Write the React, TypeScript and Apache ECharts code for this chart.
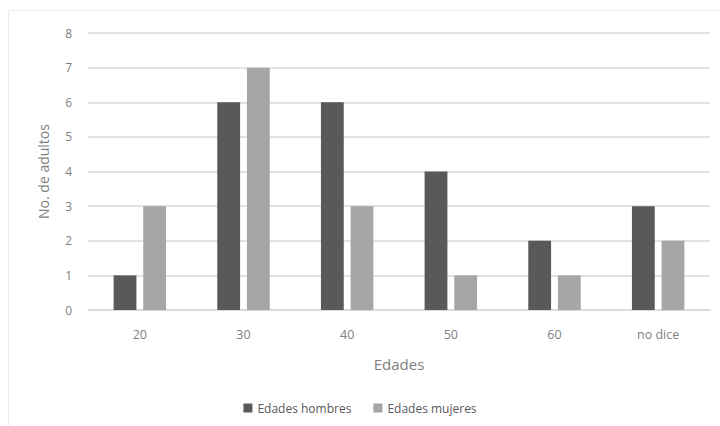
import React, { useEffect, useRef } from "react";
import * as echarts from "echarts";

const categories = ["20", "30", "40", "50", "60", "no dice"];
const hombres = [1, 6, 6, 4, 2, 3];
const mujeres = [3, 7, 3, 1, 1, 2];
const seriesNames = ["Edades hombres", "Edades mujeres"];

export default function App() {
  const ref = useRef<HTMLDivElement>(null);
  useEffect(() => {
    document.body.style.margin = "0";
    const chart = echarts.init(ref.current!, null, { renderer: "svg" });
    const font = "'Open Sans', 'Noto Sans', sans-serif";
    chart.setOption({
      animation: false,
      backgroundColor: "#ffffff",
      textStyle: { fontFamily: font },
      graphic: [
        {
          type: "rect",
          shape: { x: 8.5, y: 10.5, width: 720, height: 420 },
          style: { fill: "none", stroke: "#eeeeee", lineWidth: 1 },
          silent: true,
          z: -1,
        },
      ],
      grid: { left: 88, right: 10, top: 33, bottom: 116 },
      legend: {
        bottom: 7,
        left: "center",
        itemWidth: 9,
        itemHeight: 9,
        itemGap: 22,
        icon: "rect",
        textStyle: { color: "#595959", fontSize: 12, fontFamily: font },
        data: seriesNames,
      },
      xAxis: {
        type: "category",
        data: categories,
        name: "Edades",
        nameLocation: "middle",
        nameGap: 46,
        nameTextStyle: { color: "#7f7f7f", fontSize: 15, fontFamily: font },
        axisLine: { lineStyle: { color: "#d9d9d9", width: 1.5 } },
        axisTick: { show: false },
        axisLabel: { color: "#7f7f7f", fontSize: 12.5, margin: 18 },
      },
      yAxis: {
        type: "value",
        min: 0,
        max: 8,
        interval: 1,
        name: "No. de adultos",
        nameLocation: "middle",
        nameGap: 38,
        nameTextStyle: { color: "#7f7f7f", fontSize: 14, fontFamily: font },
        axisLine: { show: false },
        axisTick: { show: false },
        axisLabel: { color: "#7f7f7f", fontSize: 12, margin: 16 },
        splitLine: { lineStyle: { color: "#d9d9d9", width: 1.5 } },
      },
      series: [
        {
          name: seriesNames[0],
          type: "bar",
          data: hombres,
          barWidth: "22%",
          barGap: "30%",
          itemStyle: { color: "#595959" },
        },
        {
          name: seriesNames[1],
          type: "bar",
          data: mujeres,
          barWidth: "22%",
          itemStyle: { color: "#a6a6a6" },
        },
      ],
    });
    return () => chart.dispose();
  }, []);
  return <div ref={ref} style={{ width: 720, height: 426 }} />;
}
